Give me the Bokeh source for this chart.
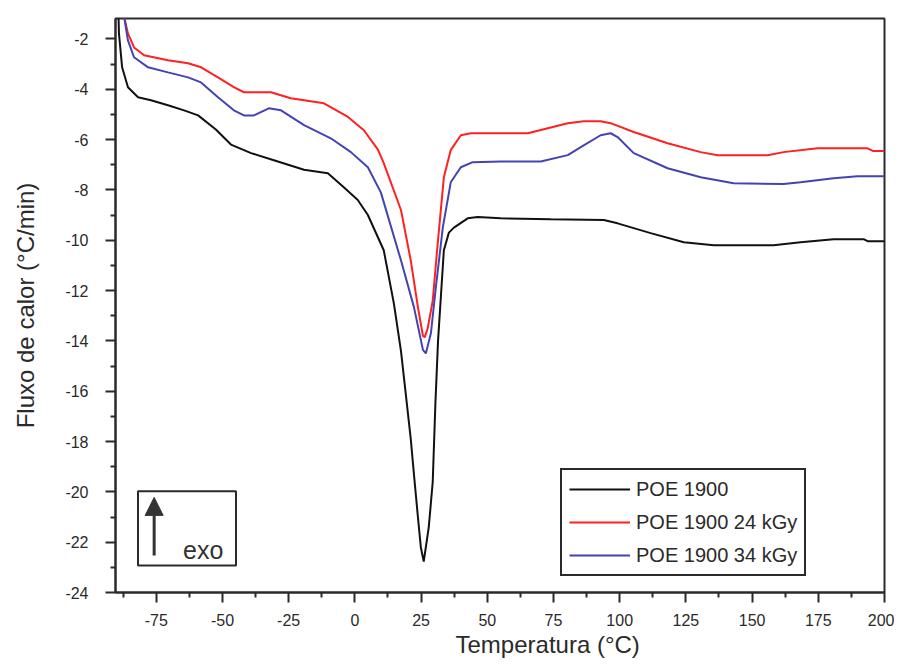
from bokeh.plotting import figure
from bokeh.models import (Range1d, FixedTicker, Legend, LegendItem, BoxAnnotation,
                          Arrow, NormalHead, Label, Title)
from bokeh.embed import file_html
from bokeh.resources import INLINE

# ---- data ----
temp_poe = [-89.4, -89.1, -87.9, -85.7, -81.9, -77.0, -70.6, -64.5, -59.2, -52.5, -46.8,
            -39.2, -30.6, -19.2, -10.2, -4.2, 1.1, 4.9, 10.9, 14.7, 17.4, 19.2, 21.1,
            22.3, 23.8, 24.9, 26.0, 27.9, 29.4, 30.4, 31.4, 32.5, 33.6, 35.5, 37.4,
            42.6, 46.4, 55.1, 74.0, 94.0, 99.2, 111.7, 124.2, 135.5, 158.1, 168.3,
            180.8, 192.1, 193.6, 200.0]
flux_poe = [-0.5, -1.78, -3.13, -3.92, -4.32, -4.44, -4.64, -4.84, -5.04, -5.6, -6.2,
            -6.54, -6.82, -7.2, -7.34, -7.9, -8.4, -9.0, -10.4, -12.5, -14.4, -16.1, -17.9,
            -19.3, -21.0, -22.2, -22.77, -21.4, -19.6, -16.5, -14.0, -12.2, -10.4, -9.7, -9.5,
            -9.13, -9.08, -9.13, -9.17, -9.2, -9.33, -9.72, -10.08, -10.2, -10.2, -10.08,
            -9.96, -9.96, -10.04, -10.04]

temp_24 = [-87.6, -85.7, -83.4, -79.6, -70.6, -63.0, -58.1, -51.7, -45.7, -41.9, -35.5,
           -31.7, -24.2, -11.7, -2.6, 3.4, 8.7, 10.9, 17.4, 21.1, 23.8, 25.7, 26.4, 27.5,
           29.4, 31.3, 33.6, 36.2, 40.0, 43.8, 55.1, 65.3, 80.4, 86.4, 92.8, 96.6, 105.3,
           118.1, 130.6, 137.0, 155.8, 161.9, 174.7, 193.6, 195.8, 200.0]
flux_24 = [-0.9, -1.78, -2.34, -2.65, -2.85, -2.97, -3.13, -3.53, -3.92, -4.12, -4.12,
           -4.12, -4.36, -4.56, -5.1, -5.63, -6.4, -6.94, -8.8, -10.8, -12.66, -13.8, -13.85,
           -13.5, -12.4, -10.1, -7.5, -6.42, -5.83, -5.75, -5.75, -5.75, -5.35, -5.27, -5.27,
           -5.35, -5.7, -6.15, -6.5, -6.62, -6.62, -6.5, -6.35, -6.35, -6.46, -6.46]

temp_34 = [-87.5, -85.7, -83.4, -78.1, -70.6, -63.0, -58.1, -51.7, -45.7, -41.9, -38.1,
           -32.5, -27.9, -19.2, -9.1, -1.5, 4.9, 9.8, 17.4, 22.3, 25.7, 26.8, 28.7, 30.6,
           33.2, 36.2, 40.0, 44.5, 55.1, 70.2, 80.4, 86.4, 92.8, 96.6, 99.2, 105.3, 118.1,
           130.6, 143.0, 161.9, 168.3, 180.8, 189.8, 200.0]
flux_34 = [-0.9, -2.06, -2.73, -3.13, -3.33, -3.53, -3.73, -4.32, -4.84, -5.04, -5.04,
           -4.76, -4.84, -5.43, -5.95, -6.5, -7.1, -8.1, -10.8, -12.66, -14.36, -14.5, -13.7,
           -11.85, -9.5, -7.7, -7.1, -6.9, -6.87, -6.87, -6.62, -6.23, -5.83, -5.75, -5.9,
           -6.54, -7.14, -7.5, -7.74, -7.77, -7.7, -7.54, -7.46, -7.46]

series_names = ["POE 1900", "POE 1900 24 kGy", "POE 1900 34 kGy"]
series_colors = ["#111111", "#ff2020", "#4343b5"]

x_ticks = [-75, -50, -25, 0, 25, 50, 75, 100, 125, 150, 175, 200]
x_minor = [-87.5, -62.5, -37.5, -12.5, 12.5, 37.5, 62.5, 87.5, 112.5, 137.5, 162.5, 187.5]
y_ticks = [-24, -22, -20, -18, -16, -14, -12, -10, -8, -6, -4, -2]
y_minor = [-23, -21, -19, -17, -15, -13, -11, -9, -7, -5, -3]

x_title = "Temperatura (°C)"
y_title = "Fluxo de calor (°C/min)"

FONT = "Liberation Sans"
INK = "#2a2a2a"

p = figure(width=894, height=663, output_backend="svg", toolbar_location=None,
           x_range=Range1d(-90.4, 200), y_range=Range1d(-24.0, -1.19),
           min_border_left=115, min_border_right=10, min_border_top=18,
           min_border_bottom=71)
p.background_fill_color = "white"
p.border_fill_color = "white"
p.outline_line_color = INK
p.outline_line_width = 2
p.outline_line_alpha = 1.0
p.xgrid.visible = False
p.ygrid.visible = False

p.xaxis.ticker = FixedTicker(ticks=x_ticks, minor_ticks=x_minor)
p.yaxis.ticker = FixedTicker(ticks=y_ticks, minor_ticks=y_minor)
p.xaxis.major_label_overrides = {t: str(t) for t in x_ticks}
p.yaxis.major_label_overrides = {t: str(t) for t in y_ticks}
p.yaxis.axis_label = y_title

for ax in (p.xaxis, p.yaxis):
    ax.axis_line_color = INK
    ax.axis_line_width = 2
    ax.major_tick_line_color = INK
    ax.major_tick_line_width = 2
    ax.minor_tick_line_color = INK
    ax.minor_tick_line_width = 2
    ax.major_tick_in = 0
    ax.major_tick_out = 10
    ax.minor_tick_in = 0
    ax.minor_tick_out = 5
    ax.major_label_text_font = FONT
    ax.major_label_text_font_size = "16px"
    ax.major_label_text_color = INK
    ax.axis_label_text_font = FONT
    ax.axis_label_text_font_style = "normal"
    ax.axis_label_text_color = INK

p.xaxis.major_label_standoff = 11
p.yaxis.major_label_standoff = 17
p.yaxis.axis_label_standoff = 23
p.yaxis.axis_label_text_font_size = "24px"

# x-axis title, shifted right of centre as in the reference
p.add_layout(Title(text=x_title, align="left", offset=340, standoff=0,
                   text_font=FONT, text_font_size="24px", text_font_style="normal",
                   text_color=INK), "below")

r0 = p.line(temp_poe, flux_poe, line_color=series_colors[0], line_width=2)
r1 = p.line(temp_24, flux_24, line_color=series_colors[1], line_width=2)
r2 = p.line(temp_34, flux_34, line_color=series_colors[2], line_width=2)

legend = Legend(items=[LegendItem(label=series_names[0], renderers=[r0]),
                       LegendItem(label=series_names[1], renderers=[r1]),
                       LegendItem(label=series_names[2], renderers=[r2])],
                location=(445, 16), margin=0, padding=7, spacing=9,
                glyph_width=61, glyph_height=24, label_height=24, label_standoff=6,
                label_text_font=FONT, label_text_font_size="20px",
                label_text_color=INK,
                border_line_color=INK, border_line_width=2, border_line_alpha=1.0,
                background_fill_color="white", background_fill_alpha=1.0)
p.add_layout(legend)

# "exo" indicator box
p.add_layout(BoxAnnotation(left=-81.9, right=-44.9, top=-19.98, bottom=-22.93,
                           fill_alpha=0, line_color=INK, line_width=2, line_alpha=1.0))
p.add_layout(Arrow(x_start=-75.8, y_start=-22.53, x_end=-75.8, y_end=-20.22,
                   line_color="#333333", line_width=3,
                   end=NormalHead(size=18, fill_color="#333333", line_color="#333333")))
p.add_layout(Label(x=-64.9, y=-22.3, text="exo", text_font=FONT,
                   text_font_size="25px", text_color="#333333",
                   text_baseline="alphabetic"))

open("out.html", "w").write(file_html(p, INLINE))
